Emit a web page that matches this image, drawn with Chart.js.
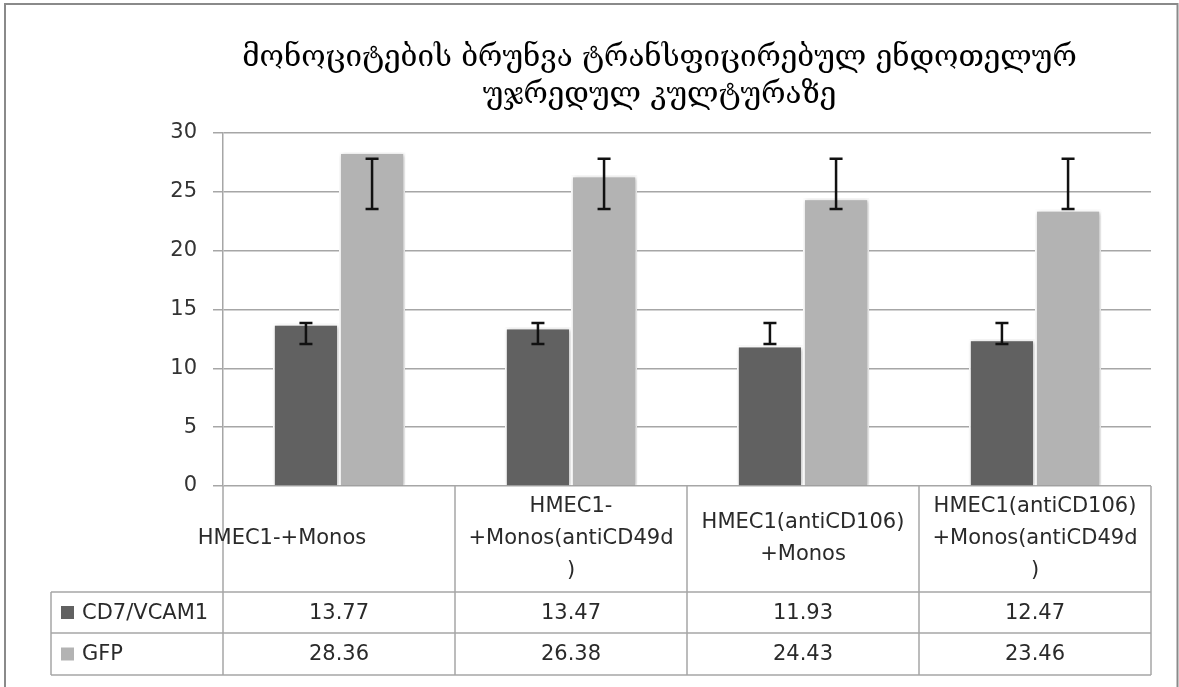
<!DOCTYPE html>
<html>
<head>
<meta charset="utf-8">
<script src="https://cdn.jsdelivr.net/npm/chart.js@4.4.0/dist/chart.umd.min.js"></script>
<style>
  body { margin: 0; background: #fff; }
  #wrap { position: relative; width: 1179px; height: 687px; }
</style>
</head>
<body>
<div id="wrap"><canvas id="chart" width="1179" height="687"></canvas></div>
<script>
// dados
var titulo = ["მონოციტების ბრუნვა ტრანსფიცირებულ ენდოთელურ", "უჯრედულ კულტურაზე"];
var categorias = [
  ["HMEC1-+Monos"],
  ["HMEC1-", "+Monos(antiCD49d", ")"],
  ["HMEC1(antiCD106)", "+Monos"],
  ["HMEC1(antiCD106)", "+Monos(antiCD49d", ")"]
];
var nomesSeries = ["CD7/VCAM1", "GFP"];
var cd7 = [13.77, 13.47, 11.93, 12.47];
var gfp = [28.36, 26.38, 24.43, 23.46];
// barras de erro (limites)
var cd7ErrMin = [12.06, 12.06, 12.06, 12.06];
var cd7ErrMax = [13.85, 13.85, 13.85, 13.85];
var gfpErrMin = [23.52, 23.52, 23.52, 23.52];
var gfpErrMax = [27.8, 27.8, 27.8, 27.8];
var yMin = 0, yMax = 30, yPasso = 5;

var corCD7 = '#616161';
var corGFP = '#b3b3b3';
var corGrade = '#a6a6a6';
var fonteTexto = '"DejaVu Sans", "Open Sans", sans-serif';

const moldura = {
  id: 'moldura',
  beforeDraw(chart) {
    const ctx = chart.ctx;
    ctx.save();
    ctx.fillStyle = '#fff';
    ctx.fillRect(0, 0, chart.width, chart.height);
    ctx.strokeStyle = '#8a8a8a';
    ctx.lineWidth = 2;
    ctx.strokeRect(5, 4, chart.width - 6.5, chart.height + 20);
    ctx.restore();
  }
};

const sombra = {
  id: 'sombra',
  beforeDatasetsDraw(chart) {
    const ctx = chart.ctx;
    ctx.save();
    ctx.shadowColor = 'rgba(0,0,0,0.28)';
    ctx.shadowBlur = 4;
    ctx.shadowOffsetX = 1;
    ctx.shadowOffsetY = 1;
  },
  afterDatasetsDraw(chart) {
    chart.ctx.restore();
  }
};

const barrasErro = {
  id: 'barrasErro',
  afterDatasetsDraw(chart) {
    const ctx = chart.ctx, ys = chart.scales.y;
    ctx.save();
    ctx.strokeStyle = '#111';
    ctx.lineWidth = 2.5;
    chart.data.datasets.forEach((ds, d) => {
      const meta = chart.getDatasetMeta(d);
      meta.data.forEach((bar, i) => {
        const yLo = ys.getPixelForValue(ds.errMin[i]);
        const yHi = ys.getPixelForValue(ds.errMax[i]);
        ctx.beginPath();
        ctx.moveTo(bar.x, yLo); ctx.lineTo(bar.x, yHi);
        ctx.moveTo(bar.x - 6.5, yLo); ctx.lineTo(bar.x + 6.5, yLo);
        ctx.moveTo(bar.x - 6.5, yHi); ctx.lineTo(bar.x + 6.5, yHi);
        ctx.stroke();
      });
    });
    ctx.restore();
  }
};

// tabela de dados embaixo do grafico
const tabela = {
  id: 'tabela',
  afterDraw(chart) {
    const ctx = chart.ctx, area = chart.chartArea, xs = chart.scales.x;
    const n = chart.data.labels.length;
    const cw = (area.right - area.left) / n;
    const topo = area.bottom, cab = topo + 106, l1 = cab + 41, l2 = l1 + 42;
    const esq = 51;
    ctx.save();
    ctx.strokeStyle = corGrade;
    ctx.lineWidth = 1.5;
    function linha(x1, y1, x2, y2) {
      ctx.beginPath(); ctx.moveTo(x1, y1); ctx.lineTo(x2, y2); ctx.stroke();
    }
    linha(esq, cab, area.right, cab);
    linha(esq, l1, area.right, l1);
    linha(esq, l2, area.right, l2);
    linha(esq, cab, esq, l2);
    for (let i = 0; i <= n; i++) {
      const x = area.left + i * cw;
      linha(x, topo, x, l2);
    }

    ctx.fillStyle = '#2a2a2a';
    ctx.font = '21px ' + fonteTexto;
    ctx.textAlign = 'center';
    ctx.textBaseline = 'middle';
    chart.data.labels.forEach((lab, i) => {
      const linhas = Array.isArray(lab) ? lab : [lab];
      const cx = xs.getPixelForValue(i) + (i == 0 ? -57 : 0);
      const cy = (topo + cab) / 2;
      linhas.forEach((t, k) => {
        ctx.fillText(t, cx, cy + (k - (linhas.length - 1) / 2) * 32);
      });
    });

    chart.data.datasets.forEach((ds, r) => {
      const cy = r == 0 ? (cab + l1) / 2 : (l1 + l2) / 2;
      ctx.fillStyle = ds.backgroundColor;
      ctx.fillRect(esq + 10, cy - 6.5, 13, 13);
      ctx.fillStyle = '#2a2a2a';
      ctx.textAlign = 'left';
      ctx.fillText(ds.label, esq + 31, cy + 1);
      ctx.textAlign = 'center';
      ds.data.forEach((v, i) => {
        ctx.fillText(v.toFixed(2), xs.getPixelForValue(i), cy + 1);
      });
    });
    ctx.restore();
  }
};

const config = {
  type: 'bar',
  data: {
    labels: categorias,
    datasets: [{
      label: nomesSeries[0],
      data: cd7,
      errMin: cd7ErrMin,
      errMax: cd7ErrMax,
      backgroundColor: corCD7,
      borderColor: '#fff',
      borderWidth: 2
    }, {
      label: nomesSeries[1],
      data: gfp,
      errMin: gfpErrMin,
      errMax: gfpErrMax,
      backgroundColor: corGFP,
      borderColor: '#fff',
      borderWidth: 2
    }]
  },
  options: {
    responsive: false,
    animation: false,
    // padding esquerdo maior para o titulo ficar mais a direita, como no original
    layout: { padding: { left: 168, right: 28, top: 0, bottom: 201 } },
    datasets: { bar: { categoryPercentage: 0.57, barPercentage: 1.0 } },
    plugins: {
      legend: { display: false },
      tooltip: { enabled: false },
      title: {
        display: true,
        text: titulo,
        color: '#000',
        font: { family: '"DejaVu Serif", "DejaVu Sans", serif', size: 29.5, weight: 'normal', lineHeight: 1.25 },
        padding: { top: 40, bottom: 19 }
      }
    },
    scales: {
      x: { display: false },
      y: {
        min: yMin,
        max: yMax,
        afterFit: function (scale) { scale.width = 55; },
        ticks: {
          stepSize: yPasso,
          padding: 16,
          color: '#333',
          font: { family: fonteTexto, size: 21 }
        },
        grid: { color: corGrade, lineWidth: 1.5, tickLength: 10, drawTicks: true },
        border: { display: true, color: corGrade, width: 1.5 }
      }
    }
  },
  plugins: [moldura, sombra, barrasErro, tabela]
};

let myChart = new Chart(document.getElementById('chart'), config);
</script>
</body>
</html>
